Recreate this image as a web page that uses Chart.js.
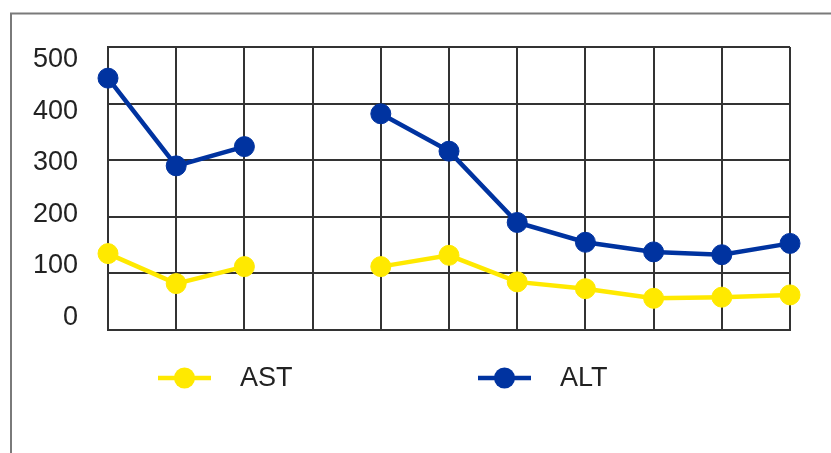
<!DOCTYPE html>
<html>
<head>
<meta charset="utf-8">
<script src="https://cdn.jsdelivr.net/npm/chart.js@4.4.1/dist/chart.umd.min.js"></script>
<style>
  html, body { margin: 0; padding: 0; background: #fff; overflow: hidden; }
  #wrap { position: relative; width: 831px; height: 453px; }
</style>
</head>
<body>
<div id="wrap"><canvas id="c" width="831" height="453"></canvas></div>
<script>
// ---- data ----
const categories = ['1', '2', '3', '4', '5', '6', '7', '8', '9', '10', '11'];
const astValues = [135, 82, 112, null, 112, 132, 85, 73, 56, 58, 62];
const altValues = [445, 290, 324, null, 382, 316, 190, 155, 138, 133, 153];
const yTickLabels = [0, 100, 200, 300, 400, 500];
const seriesNames = ['AST', 'ALT'];

const YELLOW = '#FFE900';
const BLUE = '#0033A0';
const GRID = '#333333';
const TEXT = '#222222';
const FONT = '"Liberation Sans", Arial, sans-serif';

const framePlugin = {
  id: 'frame',
  beforeDraw(chart) {
    const ctx = chart.ctx;
    ctx.save();
    ctx.strokeStyle = '#7a7a7a';
    ctx.lineWidth = 2;
    ctx.strokeRect(11, 13.5, 900, 600);
    ctx.restore();
  }
};

const legendPlugin = {
  id: 'customLegend',
  afterDraw(chart) {
    const ctx = chart.ctx;
    const y = 378;
    const items = [
      { x0: 158, x1: 211, tx: 240 },
      { x0: 478, x1: 531, tx: 560 }
    ];
    chart.data.datasets.forEach((ds, i) => {
      const it = items[i];
      ctx.save();
      ctx.strokeStyle = ds.borderColor;
      ctx.lineWidth = 4.5;
      ctx.beginPath();
      ctx.moveTo(it.x0, y);
      ctx.lineTo(it.x1, y);
      ctx.stroke();
      ctx.fillStyle = ds.pointBackgroundColor;
      ctx.beginPath();
      ctx.arc((it.x0 + it.x1) / 2, y, 10.5, 0, Math.PI * 2);
      ctx.fill();
      ctx.fillStyle = TEXT;
      ctx.font = '27px ' + FONT;
      ctx.textBaseline = 'middle';
      ctx.textAlign = 'left';
      ctx.fillText(ds.label, it.tx, y + 1);
      ctx.restore();
    });
  }
};

new Chart(document.getElementById('c'), {
  type: 'line',
  data: {
    labels: categories,
    datasets: [
      {
        label: seriesNames[0],
        data: astValues,
        borderColor: YELLOW,
        backgroundColor: YELLOW,
        pointBackgroundColor: YELLOW,
        pointBorderColor: YELLOW,
        borderWidth: 4.5,
        pointRadius: 10,
        pointBorderWidth: 1,
        spanGaps: false,
        tension: 0
      },
      {
        label: seriesNames[1],
        data: altValues,
        borderColor: BLUE,
        backgroundColor: BLUE,
        pointBackgroundColor: BLUE,
        pointBorderColor: BLUE,
        borderWidth: 4.5,
        pointRadius: 10,
        pointBorderWidth: 1,
        spanGaps: false,
        tension: 0
      }
    ]
  },
  options: {
    responsive: false,
    animation: false,
    events: [],
    layout: { padding: { left: 0, top: 47, right: 41, bottom: 123 } },
    plugins: { legend: { display: false }, tooltip: { enabled: false } },
    scales: {
      x: {
        type: 'category',
        offset: false,
        grid: { display: true, color: GRID, lineWidth: 2, drawTicks: false },
        border: { display: true, color: GRID, width: 2 },
        ticks: { display: false },
        afterFit(scale) { scale.height = 0; }
      },
      y: {
        type: 'linear',
        position: 'left',
        weight: 0,
        min: 0,
        max: 500,
        ticks: { display: false, stepSize: 100 },
        grid: { display: true, color: GRID, lineWidth: 2, drawTicks: false },
        border: { display: true, color: GRID, width: 2 },
        afterFit(scale) { scale.width = 8; }
      },
      yLabels: {
        type: 'linear',
        position: 'left',
        weight: 1,
        min: -25,
        max: 525,
        grid: { display: false },
        border: { display: false },
        ticks: {
          color: TEXT,
          font: { family: FONT, size: 27 },
          padding: 14
        },
        afterBuildTicks(scale) {
          scale.ticks = yTickLabels.map(v => ({ value: v }));
        },
        afterFit(scale) { scale.width = 100; }
      }
    }
  },
  plugins: [framePlugin, legendPlugin]
});
</script>
</body>
</html>
